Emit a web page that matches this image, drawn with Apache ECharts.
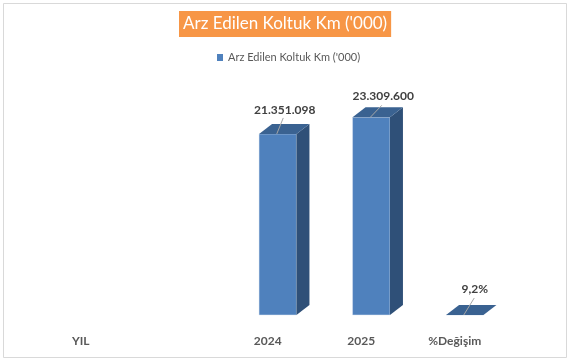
<!DOCTYPE html>
<html><head><meta charset="utf-8">
<style>html,body{margin:0;padding:0;background:#fff}#c{width:570px;height:361px}</style>
<script src="https://cdn.jsdelivr.net/npm/echarts@6/dist/echarts.min.js"></script>
</head><body><div id="c"></div>
<script>
const titleText = "Arz Edilen Koltuk Km ('000)";
const categories = ['YIL', '', '2024', '2025', '%Değişim'];
const values = [null, null, 21351098, 23309600, 9.2];
const valueLabels = ['', '', '21.351.098', '23.309.600', '9,2%'];

// leader-line end and label centre, relative to the bar's top front centre
const leader = {
  2: {lx: 6.5, ly: -16, tx: 7, ty: -24},
  3: {lx: 11.5, ly: -12, tx: 12, ty: -21},
  4: {lx: 10.5, ly: -17, tx: 10, ty: -26}
};
const FONT = 'Lato, "Open Sans", sans-serif';

function renderBar(params, api) {
  const i = api.value(0), v = api.value(1);
  const base = api.coord([i, 0]), top = api.coord([i, v]);
  const w = api.size([1, 0])[0] * 0.4;
  const cx = base[0] + 10, x0 = cx - w / 2, x1 = cx + w / 2;
  const yT = top[1], yB = base[1], dx = 13, dy = 10;
  const l = leader[i];
  const poly = (pts, fill, z2) => ({type: 'polygon', z2, shape: {points: pts}, style: {fill}});
  return {type: 'group', children: [
    {type: 'rect', z2: 1, shape: {x: x0, y: yT, width: w, height: yB - yT}, style: {fill: '#4F81BD', stroke: '#DCE6F2', lineWidth: 0.5}},
    poly([[x1, yT], [x1 + dx, yT - dy], [x1 + dx, yB - dy], [x1, yB]], '#2F5078', 2),
    poly([[x0, yT], [x0 + dx, yT - dy], [x1 + dx, yT - dy], [x1, yT]], '#3A6291', 3),
    {type: 'line', z2: 4, shape: {x1: cx - 1, y1: yT, x2: cx - 1 + l.lx, y2: yT + l.ly}, style: {stroke: '#A6A6A6', lineWidth: 1}},
    {type: 'text', z2: 5, style: {x: cx + l.tx, y: yT + l.ty, text: valueLabels[i], fill: '#404040', font: 'bold 12px ' + FONT, textAlign: 'center', textVerticalAlign: 'middle'}}
  ]};
}

const chart = echarts.init(document.getElementById('c'), null, {renderer: 'canvas'});
chart.setOption({
  animation: false,
  backgroundColor: '#fff',
  title: {
    text: titleText, left: 179, top: 11, padding: [3, 4, 3, 4],
    backgroundColor: '#F79646',
    textStyle: {color: '#fff', fontFamily: FONT, fontSize: 17, fontWeight: 'normal', lineHeight: 20}
  },
  legend: {
    data: [{name: titleText, icon: 'rect'}],
    left: 212, top: 47, itemWidth: 6, itemHeight: 7, itemGap: 4,
    textStyle: {color: '#595959', fontFamily: FONT, fontSize: 11}
  },
  grid: {left: 34, right: 68.5, top: 103, bottom: 46},
  xAxis: {
    type: 'category', data: categories,
    axisLine: {show: false}, axisTick: {show: false},
    axisLabel: {interval: 0, margin: 20, color: '#595959', fontFamily: FONT, fontSize: 12, fontWeight: 'bold'}
  },
  yAxis: {type: 'value', min: 0, max: 25000000, show: false},
  series: [{
    name: titleText, type: 'custom', renderItem: renderBar, clip: false,
    encode: {x: 0, y: 1}, itemStyle: {color: '#4F81BD'},
    data: values.map((v, i) => [i, v]).filter(d => d[1] !== null)
  }],
  graphic: [{
    type: 'rect', silent: true, z: -1,
    shape: {x: 3.5, y: 3.5, width: 563, height: 354},
    style: {fill: 'none', stroke: '#D9D9D9', lineWidth: 1}
  }]
});
</script></body></html>
